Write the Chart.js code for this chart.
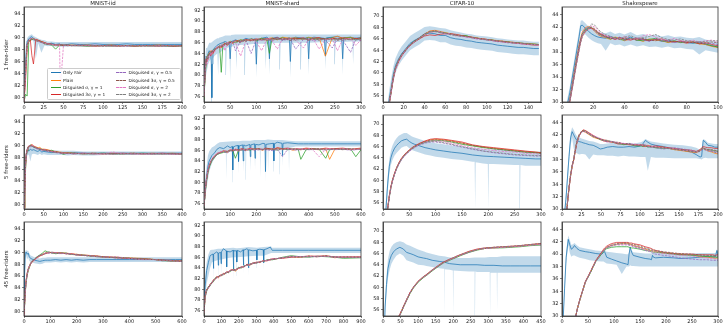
<!DOCTYPE html>
<html><head><meta charset="utf-8">
<script src="https://cdn.jsdelivr.net/npm/chart.js@4.4.1/dist/chart.umd.min.js"></script>
<style>
body{margin:0;width:725px;height:327px;position:relative;background:#fff;overflow:hidden;font-family:"DejaVu Sans",sans-serif}
canvas{position:absolute}
.ttl{position:absolute;text-align:center;font-size:5.5px;line-height:7px;color:#222;white-space:nowrap}
.rowlab{position:absolute;font-size:5.5px;color:#222;white-space:nowrap;transform:translate(-50%,-50%) rotate(-90deg)}
#legend{position:absolute;left:46.5px;top:67.5px;width:134px;height:32px;background:rgba(255,255,255,0.85);border:0.6px solid #ccc;border-radius:1.5px;box-sizing:border-box}
.li{position:absolute;font-size:4.3px;line-height:5px;color:#222;white-space:nowrap}
.ls{position:absolute;width:10px;height:0;border-top-width:0.8px}
</style></head><body>
<script>
// ---------- Series names ----------
const seriesNames = ['Only Fair','Plain','Disguised σ, γ = 1','Disguised 3σ, γ = 1','Disguised σ, γ = 0.5','Disguised 3σ, γ = 0.5','Disguised σ, γ = 2','Disguised 3σ, γ = 2'];
const datasetTitles = ['MNIST-iid','MNIST-shard','CIFAR-10','Shakespeare'];
const rowTitles = ['1 free-rider','5 free-riders','45 free-riders'];

// ---------- Tick labels ----------
const yTicksIID = [80,82,84,86,88,90,92,94];
const yTicksShard = [76,78,80,82,84,86,88,90,92];
const yTicksCifar = [56,58,60,62,64,66,68,70];
const yTicksShk = [30,32,34,36,38,40,42,44];
const xTicksIid1 = [0,25,50,75,100,125,150,175,200];
const xTicksShard1 = [0,50,100,150,200,250,300];
const xTicksCifar1 = [0,20,40,60,80,100,120,140];
const xTicksShk1 = [0,20,40,60,80,100];
const xTicksIid5 = [0,50,100,150,200,250,300,350,400];
const xTicksShard5 = [0,100,200,300,400,500,600];
const xTicksCifar5 = [0,50,100,150,200,250,300];
const xTicksShk5 = [0,25,50,75,100,125,150,175,200];
const xTicksIid45 = [0,100,200,300,400,500,600];
const xTicksShard45 = [0,100,200,300,400,500,600,700,800,900];
const xTicksCifar45 = [0,50,100,150,200,250,300,350,400,450];
const xTicksShk45 = [0,50,100,150,200,250,300];

// ---------- MNIST-iid, 1 free-rider ----------
const iid1X = [0,2,4,6,8,10,12,15,18,22,26,30,35,40,45,46,50,55,60,70,80,90,100,110,120,130,140,150,160,170,180,190,200];
const iid1Fair = [79.5,86,89.4,89.8,90.1,90.2,89.9,89.7,89.5,89.3,89.2,89.0,89.1,88.9,89.0,88.9,88.9,88.9,89.0,88.9,88.9,89.0,88.9,88.9,88.9,89.0,88.9,88.9,88.9,88.9,88.9,88.9,88.9];
const iid1Hi = [81,88.5,90,90.3,90.5,90.6,90.3,90.1,89.9,89.7,89.6,89.4,89.4,89.3,89.3,89.3,89.3,89.3,89.3,89.3,89.3,89.3,89.3,89.3,89.3,89.3,89.3,89.3,89.3,89.3,89.3,89.3,89.3];
const iid1Lo = [79.2,83.5,88.5,89.2,89.6,89.7,89.4,86.5,89.1,87.5,88.7,88.6,88.7,88.5,88.6,88.5,88.5,88.5,88.6,88.5,88.5,88.5,88.5,88.5,88.5,88.5,88.5,88.5,88.5,88.5,88.5,88.5,88.5];
const iid1Plain = [79.3,84,88.5,89.5,89.6,89.8,89.9,89.7,89.6,89.4,89.2,89.0,88.9,88.8,88.9,88.8,88.8,88.7,88.8,88.7,88.8,88.7,88.7,88.8,88.7,88.7,88.7,88.7,88.7,88.8,88.7,88.7,88.7];
const iid1S1 = [79.2,80.5,80.2,89.3,89.6,89.7,89.8,89.6,89.5,89.3,89.0,88.9,88.8,88.1,88.8,88.8,88.7,88.8,88.7,88.7,88.6,88.7,88.7,88.6,88.7,88.7,88.6,88.7,88.6,88.7,88.6,88.6,88.6];
const iid1T1 = [79.2,83,88.8,89.4,89.7,87,85.6,89.8,89.6,89.4,89.2,89.0,88.9,88.8,88.8,88.8,88.7,88.8,88.7,88.7,88.7,88.6,88.7,88.7,88.6,88.7,88.6,88.7,88.7,88.6,88.7,88.6,88.7];
const iid1S05 = [79.3,85,89,89.6,89.8,89.9,89.7,89.6,89.5,89.2,89.1,89.0,88.9,88.8,88.9,88.9,88.7,88.8,88.7,88.8,88.7,88.7,88.7,88.7,88.7,88.6,88.7,88.7,88.7,88.7,88.6,88.7,88.7];
const iid1T05 = [79.4,84.5,88.9,89.7,89.9,89.8,89.8,89.5,89.4,89.3,89.0,88.9,89.0,88.8,88.8,88.8,88.8,88.7,88.7,88.8,88.7,88.7,88.6,88.7,88.7,88.7,88.7,88.6,88.7,88.7,88.7,88.6,88.7];
const iid1S2 = [79.2,83.8,88.6,89.5,89.9,90.0,89.8,89.7,89.4,89.2,89.1,88.9,88.9,88.8,88.8,81.5,88.8,88.7,88.7,88.7,88.7,88.8,88.7,88.6,88.7,88.7,88.7,88.7,88.6,88.7,88.7,88.7,88.6];
const iid1T2 = [79.3,84.2,88.7,89.6,89.7,89.9,89.9,89.6,89.5,89.3,89.1,88.9,88.8,88.8,88.9,88.8,88.7,88.8,88.7,88.7,88.8,88.7,88.7,88.7,88.6,88.7,88.7,88.7,88.7,88.6,88.7,88.7,88.7];

// ---------- MNIST-iid, 5 free-riders ----------
const iid5X = [0,2,4,6,8,10,13,16,20,25,30,35,40,45,50,60,70,80,90,100,110,125,150,175,200,225,250,275,300,325,350,375,400];
const iid5Fair = [79.5,84,87.5,88.5,89,89.3,89.1,89.4,89.2,89.3,89.1,89.0,89.2,88.9,89.0,88.9,88.8,88.9,88.8,88.8,88.7,88.8,88.7,88.7,88.7,88.7,88.7,88.7,88.7,88.7,88.7,88.7,88.7];
const iid5Hi = [81,86,88.5,89.3,89.7,89.9,89.8,90,89.8,89.8,89.6,89.5,89.6,89.4,89.4,89.3,89.2,89.2,89.1,89.1,89.1,89.1,89.0,89.0,89.0,89.0,89.0,89.0,89.0,89.0,89.0,89.0,89.0];
const iid5Lo = [79.2,82,86.5,87.5,88.2,88.5,88.3,87.3,88.5,88.6,88.5,88.4,88.6,88.4,88.5,88.4,88.4,88.4,88.4,88.4,88.3,88.4,88.3,88.3,88.4,88.4,88.4,88.4,88.4,88.4,88.4,88.4,88.4];
const iid5Plain = [79.3,82,86.5,88.5,89.2,89.6,89.8,90,90.1,89.9,89.8,89.6,89.7,89.4,89.4,89.3,89.1,89.0,88.9,88.8,88.8,88.7,88.6,88.7,88.6,88.7,88.6,88.7,88.6,88.7,88.6,88.7,88.6];
const iid5S1 = [79.2,81.5,86,88.2,89.0,89.5,89.9,90.1,89.9,89.7,89.6,89.5,89.3,89.4,89.2,89.1,89.2,88.9,88.8,88.5,88.7,88.7,88.6,88.6,88.7,88.6,88.6,88.6,88.7,88.6,88.6,88.6,88.6];
const iid5T1 = [79.3,82.5,87,88.7,89.4,89.7,90.0,89.9,90.2,89.8,89.7,89.5,89.5,89.3,89.3,89.2,89.0,88.9,88.8,88.7,88.7,88.6,88.7,88.6,88.6,88.6,88.7,88.6,88.6,88.6,88.7,88.6,88.6];
const iid5S05 = [79.2,82.2,86.8,88.4,89.1,89.5,89.7,89.8,89.9,89.7,89.5,89.4,89.4,89.2,89.2,89.0,89.0,88.8,88.7,88.7,88.7,88.6,88.7,88.6,88.6,88.6,88.6,88.6,88.6,88.6,88.6,88.6,88.6];
const iid5T05 = [79.4,82.8,87.2,88.6,89.3,89.8,89.9,90.0,90.0,89.8,89.6,89.6,89.4,89.3,89.3,89.1,89.0,88.9,88.8,88.7,88.7,88.7,88.6,88.7,88.6,88.6,88.6,88.7,88.6,88.6,88.6,88.6,88.5];
const iid5S2 = [79.2,81.8,86.4,88.3,89.1,89.6,90.0,89.9,90.0,89.9,89.7,89.4,89.5,89.2,89.3,89.1,89.0,88.9,88.8,88.7,88.6,88.7,88.6,88.6,88.6,88.9,88.6,88.6,88.6,88.6,88.6,88.5,88.6];
const iid5T2 = [79.3,82.4,86.9,88.6,89.2,89.7,89.8,90.1,89.8,89.9,89.6,89.5,89.4,89.3,89.2,89.2,88.9,88.8,88.8,88.7,88.7,88.6,88.6,88.6,88.7,88.6,88.6,88.6,88.6,88.6,88.6,88.6,88.6];

// ---------- MNIST-iid, 45 free-riders ----------
const iid45X = [0,2,5,8,12,16,20,25,30,40,50,60,70,80,90,100,120,140,160,180,200,225,250,275,300,350,400,450,500,525,550,575,600];
const iid45Fair = [80,86,89.8,90.1,89.7,89.9,89.3,89.0,88.9,88.7,88.6,88.5,88.6,88.7,88.7,88.7,88.8,88.7,88.8,88.7,88.8,88.7,88.8,88.8,88.8,88.8,88.8,88.8,88.8,88.8,88.8,88.8,88.8];
const iid45Hi = [81,88,90.3,90.4,90.3,90.3,89.9,89.5,89.4,89.2,89.1,89.0,89.1,89.1,89.2,89.2,89.2,89.2,89.2,89.2,89.2,89.2,89.2,89.2,89.2,89.2,89.2,89.2,89.2,89.2,89.2,89.2,89.2];
const iid45Lo = [79.2,83,89.0,89.5,88.8,89.2,88.6,88.4,88.3,88.2,88.1,88.0,88.1,88.3,88.3,88.3,88.4,88.3,88.4,88.3,88.4,88.3,88.4,88.4,88.4,88.4,88.4,88.4,88.4,88.4,88.4,88.4,88.4];
const iid45Plain = [79.3,81,83.5,85,86.3,87.0,87.5,88.0,88.3,88.8,89.1,89.4,89.7,89.9,90.0,90.0,89.9,90.0,89.9,89.8,89.7,89.6,89.5,89.4,89.3,89.2,89.1,89.0,88.8,88.7,88.7,88.6,88.6];
const iid45S1 = [79.2,80.8,83.2,84.8,86.1,86.9,87.4,88.1,88.4,88.9,89.3,89.6,89.9,90.3,90.1,90.0,89.8,89.9,89.9,89.7,89.6,89.6,89.4,89.3,89.2,89.2,89.0,88.9,88.8,88.6,88.6,88.5,88.5];
const iid45T1 = [79.3,81.2,83.8,85.3,86.5,87.2,87.7,88.2,88.5,88.8,89.2,89.5,89.6,89.8,89.9,90.0,90.0,89.9,89.8,89.8,89.6,89.5,89.5,89.4,89.3,89.1,89.0,88.9,88.8,88.7,88.6,88.6,88.5];
const iid45S05 = [79.2,80.9,83.4,84.9,86.2,87.1,87.6,88.0,88.4,88.9,89.2,89.5,89.7,89.8,89.9,89.9,89.9,89.8,89.9,89.7,89.6,89.5,89.4,89.3,89.3,89.1,89.0,88.9,88.8,88.7,88.7,88.6,88.5];
const iid45T05 = [79.3,81.1,83.6,85.1,86.4,87.1,87.6,88.1,88.4,88.8,89.2,89.4,89.6,89.9,90.0,90.1,90.0,89.9,89.8,89.7,89.7,89.5,89.4,89.4,89.2,89.2,89.0,88.9,88.8,88.7,88.6,88.6,88.6];
const iid45S2 = [79.2,81.0,83.3,85.0,86.3,87.0,87.5,88.1,88.3,88.7,89.1,89.4,89.7,89.9,90.0,90.0,90.0,89.9,89.8,89.8,89.6,89.6,89.5,89.3,89.2,89.3,89.0,88.8,88.8,88.6,88.7,88.5,88.5];
const iid45T2 = [79.3,81.1,83.7,85.2,86.4,87.2,87.7,88.2,88.5,88.9,89.3,89.5,89.7,89.8,90.1,90.0,89.9,90.0,89.8,89.7,89.6,89.5,89.5,89.4,89.3,89.1,89.1,88.9,88.8,88.7,88.6,88.6,88.5];

// ---------- MNIST-shard, 1 free-rider ----------
const shard1X = [0,2,4,6,8,10,13,15,17,20,25,30,33,36,40,45,50,55,60,70,80,90,100,110,120,125,130,140,150,165,175,190,200,210,220,232,245,255,265,280,290,300];
const shard1FairX = [0,2,4,6,8,10,13,14,15,16,17,20,25,30,36,40,45,48,50,52,55,60,70,80,90,98,100,102,110,120,123,125,127,130,140,150,163,165,167,175,190,198,200,202,210,220,230,232,234,245,255,263,265,267,280,290,300];
const shard1Fair = [76.5,81,83.5,83,84,84.5,84,82,75.8,82,84.5,85,85.5,85.8,86,86.2,86,86.1,83,86.2,86.3,86.5,86.2,86.8,86.5,86.7,82,86.6,86.8,87,86.8,83,86.7,86.8,87,86.5,86.9,82.5,86.8,87,86.8,86.9,83,86.8,87,86.9,86.8,83.5,86.9,87,87.1,86.9,83,86.9,87,86.8,87];
const shard1BandX = [0,2,4,6,8,10,13.5,15,16.5,20,25.5,27,28.5,35,40.5,42,43.5,48.5,50,51.5,60.5,62,63.5,76.5,78,79.5,98.5,100,101.5,116.5,118,119.5,123.5,125,126.5,143.5,145,146.5,163.5,165,166.5,183.5,185,186.5,198.5,200,201.5,230.5,232,233.5,248.5,250,251.5,263.5,265,266.5,283.5,285,286.5,300];
const shard1Hi = [78,83,85,85,85.5,86,86,86,86.2,86.5,86.8,86.8,86.9,87.1,87.3,87.3,87.3,87.3,87.3,87.4,87.5,87.5,87.5,87.5,87.5,87.5,87.5,87.5,87.5,87.5,87.5,87.5,87.5,87.5,87.5,87.5,87.5,87.5,87.5,87.5,87.5,87.5,87.5,87.5,87.5,87.5,87.5,87.5,87.5,87.5,87.5,87.5,87.5,87.5,87.5,87.5,87.5,87.5,87.5,87.5];
const shard1Lo = [75,78,80,81,82,82.5,83,75,83,83.5,84,80,84,84.5,85,80,85,85.2,79,85.2,85.5,81,85.5,85.6,80,85.6,85.8,79.5,85.8,85.8,81,85.8,85.9,80,85.9,86,81,86,86,79.5,86,86,81,86,86,80,86,86.1,81,86.1,86.1,82,86.1,86.1,80,86.1,86.2,82,86.2,86.2];
const shard1Plain = [76,80,82.5,83.5,83.5,84,84.5,83.8,84,84.5,85,85.3,85,85.6,85.8,86,86.2,85.8,86.3,86.5,86.3,86.6,86.5,86.8,86.4,86.8,86.9,86.5,87,86.8,86.9,86.6,87,86.8,86.9,83.5,86.9,87.2,86.8,87,86.7,86.9];
const shard1S1 = [75.5,79.5,82,83,83.8,84,84.2,84,84.5,84.8,85,85.2,80.5,85.5,85.8,85.7,86,86.2,86,86.5,86.4,86.7,86.3,86.8,86.6,84,86.8,86.7,86.9,86.5,86.8,86.7,86.9,86.6,86.8,86.7,86.9,86.6,86.8,86.9,86.5,86.8];
const shard1T1 = [76,80.5,83,82.5,83,84,83.5,84.5,84,84.6,85.2,85,85.4,85.3,85.9,85.5,86.1,86,86.4,86.2,86.6,86.4,86.7,86.5,86.8,86.6,86.7,86.9,86.6,86.8,86.7,86.9,86.5,86.8,86.9,86.6,86.8,86.7,86.9,86.6,86.8,86.7];
const shard1S05 = [76,80,82.8,83.2,83.5,83.8,84,84.3,84.1,84.7,84.9,85.3,85.6,85.2,85.7,86,85.8,86.2,84.5,86.3,86.5,84,86.6,86.4,86.7,86.5,86.3,86.8,86.4,86.7,84.8,86.6,86.8,86.3,86.7,86.5,85,86.7,86.5,84.2,86.6,86.4];
const shard1T05 = [75.8,80.2,82.6,83,83.3,84.1,83.8,84.4,84.3,84.5,85.1,85.4,85.2,85.7,85.5,85.9,86,86.1,86.2,86,86.5,86.3,86.5,86.6,86.4,86.7,86.5,86.6,86.8,86.4,86.6,86.8,86.4,86.7,86.5,86.8,86.6,86.4,86.7,86.5,86.8,86.6];
const shard1S2 = [76.2,80.8,82.4,82,83.6,83.2,84.2,83.7,84.6,84.2,85.3,84.8,85.5,85.8,84.5,86.1,85.6,86.3,86.1,83.5,86.4,86.6,86.2,84.5,86.6,86.8,86.4,84.8,86.7,86.6,86.5,85,86.7,86.5,84.8,86.6,86.8,84.5,86.6,86.8,85.5,86.5];
const shard1T2 = [75.9,80.4,82.9,83.4,83.1,83.9,84.4,84.2,84.7,84.9,84.8,85.6,85.3,85.9,86,85.8,86.3,86.1,86.4,86.4,86.2,86.8,86.4,86.7,86.5,86.4,86.8,86.6,86.5,86.9,86.4,86.7,86.6,86.9,86.4,86.7,86.5,86.8,86.4,86.7,86.5,86.8];

// ---------- MNIST-shard, 5 free-riders ----------
const shard5X = [0,5,10,15,20,30,40,50,60,75,90,100,110,120,132,145,160,177,190,210,225,235,250,267,280,300,320,340,360,370,390,410,440,465,480,500,530,560,580,600];
const shard5FairX = [0,5,10,15,20,30,40,50,60,75,90,100,108,110,112,120,130,132,134,148,150,152,160,175,177,179,193,195,197,210,225,233,235,237,250,265,267,269,280,298,300,302,320,340,360,380,400,450,500,550,600];
const shard5Fair = [76,79,81,83,84,85,85.5,86.2,86.5,86.3,86.8,86.5,86.7,82.3,86.6,86.8,86.9,83.9,86.8,87,84,87,86.8,87.1,84.8,87,87.2,84.5,87.1,87,87.3,87.2,82,87.1,87.2,87.3,84,87.2,87.5,87.3,85,87.3,87.4,87.3,87.2,87.2,87.2,87.2,87.2,87.2,87.2];
const shard5BandX = [0,5,10,15,20,30,40,50,60,83.5,85,86.5,108.5,110,111.5,130.5,132,133.5,148.5,150,151.5,158.5,160,161.5,175.5,177,178.5,193.5,195,196.5,213.5,215,216.5,233.5,235,236.5,243.5,245,246.5,265.5,267,268.5,288.5,290,291.5,298.5,300,301.5,323.5,325,326.5,350,400,500,600];
const shard5Hi = [78,81,83,85,85.8,86.5,86.8,87.2,87.5,87.6,87.6,87.6,87.7,87.7,87.7,87.7,87.7,87.7,87.8,87.8,87.8,87.8,87.8,87.8,87.8,87.8,87.8,87.9,87.9,87.9,87.9,87.9,87.9,87.9,87.9,87.9,88,88,88,87.9,87.9,87.9,87.9,87.9,87.9,87.9,87.9,87.9,87.8,87.8,87.8,87.7,87.7,87.7,87.7];
const shard5Lo = [75,77,79,80.5,82,83.5,84.5,85.2,85.6,85.8,80.5,85.8,85.9,80,85.9,86,81.5,86,86,82,86,86,80.5,86,86.1,82,86.1,86.1,82.5,86.1,86.1,81,86.1,86.2,80,86.2,86.2,82,86.2,86.2,82,86.2,86.3,81.5,86.3,86.3,83,86.3,86.4,82,86.4,86.7,86.7,86.7,86.7];
const shard5Plain = [75.5,78.5,80.5,82,83,84.2,84.8,85.3,85.5,85.8,85.6,86,85.9,86.1,85.8,86.2,86,86.3,86.1,86.2,86,86.3,86.2,86.1,86.4,86.2,86.3,86,86.2,86.1,86.3,86.2,86.1,86.3,84.3,86.2,86.3,86.1,86.2,86.3];
const shard5S1 = [75.3,78.2,80.3,81.8,82.8,84,84.6,85.2,85.4,85.6,85.7,85.9,86,84.5,86,86.1,86.2,86,86.3,86.1,86.2,86.1,86.3,86.2,86,86.3,86.1,86.2,86.2,84.3,86.1,86.3,86.2,84.5,86.1,86.2,86.2,86.3,84.8,86.1];
const shard5T1 = [75.6,78.8,80.8,82.2,83.2,84.3,84.9,85.4,85.6,85.9,85.8,86.1,86,86.2,86.1,86.3,86.1,86.4,86.2,86.3,86.1,86.4,86.3,86.2,86.5,86.3,86.4,86.2,86.3,86.2,86.4,86.3,86.2,86.4,86.3,86.3,86.4,86.2,86.3,86.4];
const shard5S05 = [75.4,78.4,80.6,82.1,83.1,84.1,84.7,85.2,85.5,85.7,85.5,85.9,85.8,86,85.9,86.1,85.9,86.2,86,86.1,86.1,86.2,86,85.9,86.2,84.8,86.2,86.1,86,86.2,86.1,86.1,86.2,86,86.2,86.1,86.2,86,86.1,86.2];
const shard5T05 = [75.5,78.6,80.7,82.2,83,84.2,84.8,85.3,85.5,85.8,85.7,86,85.9,86.1,86,86.2,86,86.2,86.1,86.3,86.1,86.2,86.2,86.2,86.3,86.1,86.3,86.2,86.2,86.1,86.2,86.2,86.3,86.1,86.2,86.3,86.1,86.2,86.2,86.2];
const shard5S2 = [75.6,78.7,80.9,82.3,83.3,84.4,85,85.4,85.6,85.9,85.6,86.1,86,86.2,85.9,86.2,86.1,86.3,86.2,86.1,86.3,86,86.2,86.3,86.1,86.2,86.3,86.1,86.3,86.2,86.2,86.4,84.8,86.2,86.3,86.1,86.3,86.2,86.1,86.3];
const shard5T2 = [75.4,78.5,80.6,82,83.1,84.2,84.8,85.2,85.5,85.7,85.8,85.9,86.1,86,86.1,86,86.2,86.1,86.2,86.2,86.1,86.3,86.1,86.2,86.2,86.3,86.1,86.3,86.1,86.3,86.1,86.2,86.2,86.2,86.1,86.2,86.2,86.3,86.2,86.2];

// ---------- MNIST-shard, 45 free-riders ----------
const shard45X = [0,6,15,25,35,45,54,63,73,82,92,100,111,120,130,140,150,169,180,198,215,230,246,260,280,303,320,340,361,380,390,450,500,550,600,650,700,750,800,900];
const shard45FairX = [0,6,15,25,35,45,52,54,56,73,80,82,84,96,98,100,111,128,130,132,150,167,169,171,186,188,190,210,224,226,228,246,253,255,257,280,301,303,305,320,340,342,344,361,380,389,391,450,600,750,900];
const shard45Fair = [76.4,80.4,83.5,85,86.3,86.5,86.6,83.9,86.6,87,86.8,84.5,86.8,86.9,84.8,87,87.6,87.2,84.2,87.1,87,87.3,83.5,87.2,87.2,85.1,87.3,87,87.4,84.5,87.3,87.6,87.4,84,87.4,87.2,87.3,85.5,87.4,87.5,87.4,85,87.4,87.6,87.9,87.4,87.3,87.3,87.3,87.3,87.3];
const shard45BandX = [0,6,15,25,35,45,52.5,54,55.5,80.5,82,83.5,96.5,98,99.5,128.5,130,131.5,167.5,169,170.5,186.5,188,189.5,224.5,226,227.5,253.5,255,256.5,301.5,303,304.5,340.5,342,343.5,385,390,450,600,750,900];
const shard45Hi = [77.5,82,85,86.5,87.3,87.4,87.4,87.4,87.4,87.6,87.6,87.6,87.6,87.6,87.6,87.7,87.7,87.7,87.8,87.8,87.8,87.7,87.7,87.7,87.8,87.8,87.8,87.9,87.9,87.9,87.8,87.8,87.8,87.9,87.9,87.9,88,87.8,87.8,87.8,87.8,87.8];
const shard45Lo = [75.2,78,81,82.5,84,85,85.2,81.5,85.2,85.5,81,85.5,85.6,82.5,85.6,85.8,82,85.8,86,81.5,86,86,82.5,86,86.1,83,86.1,86.2,82.5,86.2,86.3,84,86.3,86.3,83.5,86.3,86.8,86.8,86.8,86.8,86.8,86.8];
const shard45Plain = [75.5,78.6,79.8,80.3,80.8,81.2,81.6,81.9,82.3,82.1,82.6,82.5,82.9,82.8,83.2,83.1,83.5,83.6,83.4,83.9,84.1,84.3,84.6,84.5,84.8,85.0,85.1,85.3,85.4,85.5,85.6,85.9,86.1,86.0,86.2,86.1,86.3,85.9,86.1,86.0];
const shard45S1 = [75.4,78.4,79.6,80.5,80.6,81.4,81.4,82.1,82.1,82.4,82.4,82.7,82.7,83,83.1,83.3,83.3,83.8,83.6,84.1,84,84.4,84.5,84.7,84.9,84.9,85.2,85.2,85.5,85.6,85.5,86.0,86.3,86.1,86.0,86.2,86.1,86.0,85.8,85.9];
const shard45T1 = [75.6,78.8,80,80.2,81,81.1,81.8,81.8,82.4,82.3,82.7,82.6,83,82.9,83.3,83.2,83.6,83.7,83.7,83.9,84.2,84.2,84.7,84.6,84.9,85.1,85.0,85.4,85.3,85.6,85.7,85.8,86.0,86.1,86.2,86.2,86.2,86.1,86.0,86.1];
const shard45S05 = [75.5,78.5,79.7,80.4,80.7,81.3,81.5,82,82.2,82.2,82.5,82.6,82.8,82.9,83.1,83.2,83.4,83.7,83.5,84,84.1,84.3,84.5,84.6,84.8,85,85.1,85.3,85.4,85.5,85.6,85.9,86.1,86.1,86.1,86.1,86.2,86,86,86];
const shard45T05 = [75.4,78.7,79.9,80.3,80.9,81.2,81.7,81.9,82.3,82.4,82.6,82.7,82.9,83,83.2,83.1,83.5,83.6,83.6,84,84.2,84.2,84.6,84.6,84.9,85,85.2,85.3,85.4,85.6,85.6,85.9,86.1,86,86.2,86.1,86.3,86,86.1,86];
const shard45S2 = [75.6,78.5,79.8,80.2,80.8,81.3,81.5,82,82.1,82.3,82.5,82.6,82.8,82.9,83.2,83.3,83.4,83.7,83.7,83.9,84.1,84.3,84.5,84.6,84.9,84.9,85.2,85.3,85.4,85.5,85.7,85.9,86.2,86.1,86.1,86.2,86.2,86.0,86.1,86.0];
const shard45T2 = [75.5,78.6,79.9,80.4,80.8,81.2,81.6,81.9,82.3,82.3,82.6,82.6,82.9,82.9,83.2,83.2,83.5,83.7,83.6,84,84.1,84.3,84.6,84.5,84.8,85,85.1,85.3,85.5,85.5,85.6,85.9,86.1,86.1,86.2,86.1,86.2,86.1,86.0,86.0];

// ---------- CIFAR-10, 1 free-rider ----------
const cifar1X = [3,6,8,10,12,15,18,22,26,30,35,40,45,50,55,60,65,70,75,80,85,90,95,100,105,110,115,120,125,130,135,140,145,150];
const cifar1Fair = [50,55.5,57.5,59.8,61.3,62.5,63.4,64.3,65.2,65.7,66.2,66.9,67.0,66.9,66.6,66.6,66.2,66.0,65.9,65.7,65.6,65.4,65.3,65.2,65.1,64.9,64.8,64.7,64.6,64.5,64.5,64.4,64.3,64.3];
const cifar1Hi = [52,57,59.2,61.2,62.6,63.8,64.7,65.6,66.5,67.0,67.5,68.1,68.2,68.1,67.9,67.8,67.5,67.3,67.1,66.9,66.8,66.6,66.5,66.4,66.3,66.1,66.0,65.9,65.8,65.7,65.7,65.6,65.5,65.5];
const cifar1Lo = [48,54,56,58.4,60,61.3,62.2,63.1,64,64.5,65,65.7,65.8,65.7,65.4,65.4,65.0,64.8,64.7,64.5,64.4,64.2,64.1,64.0,63.9,63.7,63.6,63.5,63.4,63.3,63.3,63.2,63.1,63.1];
const cifar1Plain = [49,54.8,57,59.3,60.8,62.2,63.1,64.1,64.9,65.5,66.1,66.8,67.4,67.5,67.3,67.1,66.9,66.7,66.6,66.5,66.3,66.2,66.0,65.9,65.8,65.7,65.6,65.5,65.4,65.3,65.2,65.2,65.1,65.0];
const cifar1S1 = [48.8,54.6,56.9,59.2,60.9,62.1,63.2,64.0,64.8,65.6,66.0,66.6,67.2,67.3,67.2,67.0,66.9,66.6,66.5,66.6,66.2,66.1,66.0,65.8,65.8,65.6,65.5,65.5,65.3,65.3,65.2,65.1,65.1,65.0];
const cifar1T1 = [48.5,54.5,56.8,59,60.6,62,63,64,64.8,65.4,66,66.5,66.7,66.6,66.8,66.9,66.9,66.8,66.6,66.4,66.3,66.1,66.0,65.9,65.7,65.6,65.5,65.4,65.3,65.2,65.1,65.0,64.9,64.9];
const cifar1S05 = [48.7,54.7,57.1,59.1,60.7,62.2,63.1,63.9,64.9,65.5,66.1,66.7,67.1,67.4,67.1,66.9,66.8,66.7,66.4,66.4,66.2,66.0,65.9,65.8,65.7,65.5,65.5,65.3,65.3,65.2,65.1,65.1,65.0,64.9];
const cifar1T05 = [48.9,54.9,57.0,59.4,60.9,62.3,63.3,64.2,65.0,65.6,66.2,66.9,67.3,67.4,67.2,67.0,66.8,66.6,66.6,66.4,66.3,66.1,66.0,65.9,65.8,65.6,65.6,65.4,65.4,65.3,65.2,65.1,65.0,65.0];
const cifar1S2 = [48.6,54.6,56.9,59.2,60.8,62.0,63.1,64.1,64.7,65.5,66.0,66.6,67.2,67.2,67.3,66.9,66.9,66.5,66.5,66.3,66.2,66.0,66.0,65.8,65.7,65.6,65.4,65.4,65.3,65.2,65.1,65.0,65.0,64.9];
const cifar1T2 = [48.8,54.8,57.1,59.3,60.9,62.3,63.2,64.0,64.9,65.4,66.1,66.8,67.3,67.3,67.1,67.0,66.7,66.7,66.5,66.4,66.3,66.2,65.9,65.9,65.7,65.7,65.5,65.4,65.3,65.3,65.2,65.1,65.0,65.0];

// ---------- CIFAR-10, 5 free-riders ----------
const cifar5X = [3,6,9,12,15,18,22,26,30,35,40,45,50,55,60,70,80,90,100,115,130,150,170,190,210,230,250,270,290,300];
const cifar5Fair = [50,55.5,59.5,62.5,64,64.9,65.7,66.2,66.6,67.0,67.2,67.3,66.9,66.6,66.4,66.1,65.8,65.6,65.4,65.2,65.0,64.8,64.5,64.3,64.2,64.1,64.0,63.9,63.8,63.8];
const cifar5BandX = [3,6,9,12,15,18,22,26,30,35,40,45,50,55,60,70,80,90,100,115,130,150,170,174,175,176,190,199,200,201,210,230,250,259,260,261,270,290,300];
const cifar5Hi = [52,57,61,63.8,65.3,66.2,67.0,67.5,67.9,68.2,68.4,68.4,68.1,67.8,67.6,67.3,67.0,66.8,66.6,66.4,66.2,66.0,65.8,65.8,65.8,65.8,65.6,65.5,65.5,65.5,65.5,65.4,65.3,65.3,65.3,65.3,65.2,65.1,65.1];
const cifar5Lo = [48,54,58,61.2,62.7,63.6,64.4,64.9,65.3,65.8,66.0,66.1,65.7,65.4,65.2,64.9,64.6,64.4,64.2,64.0,63.8,63.6,63.3,63.3,55,63.2,63.0,62.9,55,62.9,62.9,62.8,62.7,62.7,55,62.7,62.6,62.6,62.6];
const cifar5Plain = [46,52,55.2,57.2,58.8,60,61.2,62.2,63,63.8,64.4,64.9,65.3,65.7,66.0,66.5,66.9,67.2,67.3,67.2,67.0,66.6,66.2,65.9,65.7,65.5,65.3,65.1,65.0,64.9];
const cifar5S1 = [45.8,51.8,55,57,58.7,59.9,61.1,62.1,62.9,63.7,64.3,64.8,65.2,65.6,65.9,66.4,66.8,67.0,67.1,67.0,66.8,66.4,66.1,65.8,65.6,65.4,65.2,65.0,64.9,64.8];
const cifar5T1 = [45.9,52,55.1,57.3,58.9,60.1,61.3,62.3,63.1,63.9,64.5,65.0,65.4,65.8,66.1,66.6,67.0,67.3,67.4,67.3,67.1,66.8,66.3,66.0,65.8,65.6,65.4,65.2,65.0,64.9];
const cifar5S05 = [45.7,51.7,54.9,57,58.6,59.8,61.0,62.0,62.8,63.6,64.2,64.7,65.1,65.5,65.8,66.3,66.6,66.8,66.8,66.6,66.3,65.9,65.5,65.2,64.9,64.7,64.5,64.4,64.3,64.3];
const cifar5T05 = [45.8,51.9,55.1,57.2,58.8,60,61.2,62.2,63,63.8,64.4,64.9,65.3,65.7,66.0,66.5,66.9,67.1,67.2,67.1,66.9,66.6,66.2,65.9,65.6,65.4,65.2,65.0,64.9,64.8];
const cifar5S2 = [45.9,51.9,55,57.1,58.7,59.9,61.1,62.1,62.9,63.7,64.3,64.8,65.2,65.6,65.9,66.4,66.8,67.0,67.0,66.9,66.6,66.2,65.8,65.5,65.3,65.1,65.0,64.8,64.7,64.6];
const cifar5T2 = [45.7,51.8,55,57.1,58.7,60,61.2,62.2,63,63.8,64.4,64.9,65.3,65.7,66.0,66.4,66.7,66.9,66.9,66.7,66.4,66.0,65.6,65.2,65.0,64.8,64.6,64.5,64.4,64.4];

// ---------- CIFAR-10, 45 free-riders ----------
const cifar45X = [3,6,10,14,19,24,30,38,48,58,67,77,86,100,115,124,140,160,172,190,220,245,268,290,316,340,364,390,420,450];
const cifar45Fair = [50,56.5,60.5,63.3,64.8,65.7,66.3,66.8,67.1,66.8,66.2,66.0,65.8,65.4,65.2,65.1,64.8,64.6,64.5,64.2,64.0,64.0,64.0,63.9,63.9,63.8,63.8,63.8,63.8,63.8];
const cifar45BandX = [3,6,10,14,19,24,30,38,48,58,67,77,86,100,115,124,140,160,172,174,175,176,190,199,200,201,220,245,261,262,263,268,290,304,305,306,316,324,325,326,340,364,390,420,450];
const cifar45Hi = [52,58,62,65,66.5,67.2,67.7,68.0,68.2,68.0,67.6,67.4,67.1,66.7,66.4,66.2,65.9,65.6,65.5,65.5,65.5,65.5,65.3,65.3,65.3,65.3,65.2,65.2,65.3,65.3,65.3,65.3,65.3,65.4,65.4,65.4,65.4,65.4,65.4,65.4,65.5,65.5,65.5,65.5,65.5];
const cifar45Lo = [48,55,59,61.6,63.1,64.2,64.9,65.6,66.0,65.6,64.8,64.6,64.4,64.0,63.9,63.8,63.6,63.4,63.3,63.3,55,63.2,63.1,63.0,55,63.0,62.9,62.8,62.8,55,62.8,62.7,62.7,62.7,55,62.6,62.6,62.6,56,62.6,62.6,62.6,62.6,62.6,62.6];
const cifar45Plain = [30,38,44,48,51,52.5,53.5,54.2,55.1,56.5,57.7,59.0,59.9,61.0,61.8,62.2,63.0,63.9,64.4,64.9,65.7,66.3,66.7,66.9,67.0,67.1,67.2,67.3,67.5,67.7];
const cifar45S1 = [30,38,44,48,51,52.4,53.4,54.1,55.0,56.4,57.6,58.9,59.8,60.9,61.7,62.1,62.9,63.8,64.3,64.8,65.6,66.2,66.6,66.9,67.0,67.0,67.1,67.2,67.4,67.5];
const cifar45T1 = [30,38,44,48,51,52.6,53.6,54.3,55.2,56.6,57.8,59.1,60.0,61.1,61.9,62.3,63.1,64.0,64.5,65.0,65.8,66.4,66.8,67.0,67.1,67.2,67.3,67.4,67.6,67.8];
const cifar45S05 = [30,38,44,48,51,52.5,53.5,54.2,55.0,56.5,57.7,59.0,59.9,61.0,61.8,62.2,63.0,63.9,64.4,64.9,65.7,66.2,66.7,66.9,67.0,67.1,67.2,67.3,67.5,67.6];
const cifar45T05 = [30,38,44,48,51,52.5,53.5,54.2,55.1,56.5,57.7,59.0,59.9,61.0,61.8,62.2,63.0,63.9,64.4,64.9,65.7,66.3,66.7,66.9,67.1,67.2,67.2,67.4,67.6,67.7];
const cifar45S2 = [30,38,44,48,51,52.4,53.5,54.2,55.1,56.4,57.7,59.1,59.9,61.0,61.8,62.1,63.0,63.9,64.3,64.9,65.7,66.3,66.7,66.9,67.0,67.1,67.2,67.3,67.5,67.6];
const cifar45T2 = [30,38,44,48,51,52.6,53.5,54.3,55.1,56.5,57.8,59.0,60.0,61.0,61.9,62.2,63.1,63.9,64.4,65.0,65.8,66.3,66.7,67.0,67.1,67.2,67.3,67.4,67.6,67.8];

// ---------- Shakespeare, 1 free-rider ----------
const shk1X = [3,5,7,9,11,12,13,15,17,19,21,23,25,28,31,34,37,40,44,48,52,56,60,64,68,72,76,80,84,88,92,96,100];
const shk1Fair = [29,31.5,34.5,37.5,40.5,42.2,42.3,41.8,41.3,40.9,40.6,40.4,40.3,40.2,40.5,40.1,40.3,40.0,40.4,39.9,40.1,39.8,40.0,39.7,39.9,39.6,39.7,39.5,39.4,39.6,39.2,39.0,38.8];
const shk1Hi = [30,32.5,35.5,38.5,41.5,43.0,43.1,42.6,42.1,41.7,41.4,41.2,41.1,41.0,41.3,40.9,41.1,40.8,41.2,40.7,40.9,40.6,40.8,40.5,40.7,40.4,40.5,40.3,40.2,40.4,40.0,39.8,39.6];
const shk1Lo = [28,30.5,33.5,36.5,39.5,41.3,41.4,40.8,40.3,39.9,39.6,39.4,39.3,38.2,39.4,39.1,39.2,38.9,39.2,38.9,39.1,38.8,38.9,38.7,38.9,38.6,38.7,38.5,38.4,37.6,38.3,38.1,37.9];
const shk1Plain = [28.5,30.5,33.5,36.5,39.2,40.3,41.2,41.9,42.1,41.8,41.3,40.8,40.5,40.3,40.0,40.4,40.2,39.8,40.1,40.0,39.7,40.1,39.9,39.8,39.5,39.7,39.6,39.4,39.7,39.3,39.2,38.9,38.7];
const shk1S1 = [28.3,30.3,33.2,36.2,38.9,40.0,40.9,41.6,41.9,41.9,41.5,41.0,40.7,40.4,40.1,40.3,40.0,39.9,40.2,39.9,39.8,40.0,40.2,39.8,39.6,39.8,39.5,39.6,39.5,39.4,39.3,39.0,38.8];
const shk1T1 = [28,30,32.9,35.8,38.5,39.7,40.6,41.3,41.7,41.8,41.6,41.1,40.8,40.5,40.3,40.0,40.3,40.1,39.9,40.2,40.0,39.8,40.0,40.1,39.7,39.6,39.8,39.5,39.6,39.3,39.5,39.2,39.0];
const shk1S05 = [28.4,30.4,33.4,36.4,39.1,40.2,41.0,41.8,42.0,41.7,41.4,40.9,40.6,40.4,40.2,40.1,40.4,39.9,40.0,40.3,39.9,39.7,40.1,39.8,39.7,39.5,39.7,39.4,39.6,39.5,39.3,39.4,39.2];
const shk1T05 = [28.2,30.2,33.0,36.0,38.7,39.9,40.8,41.5,41.8,42.0,41.7,41.2,40.9,40.6,40.2,40.2,40.0,40.3,40.1,39.9,40.2,39.9,39.8,40.0,39.8,39.7,39.6,39.7,39.5,39.6,39.4,39.6,39.5];
const shk1S2 = [28.1,30.1,32.8,35.7,38.4,39.6,40.5,41.3,41.8,42.2,42.0,41.5,41.0,40.6,40.4,40.2,40.0,40.5,40.1,40.0,40.6,40.8,40.4,40.0,39.9,40.2,39.8,39.7,39.9,39.6,39.8,39.9,39.6];
const shk1T2 = [28,30,32.7,35.6,38.3,39.5,40.4,41.2,41.8,42.5,42.3,41.7,41.2,40.8,40.5,40.3,40.1,40.4,40.6,40.2,40.3,40.5,40.8,40.3,40.0,39.9,40.1,39.8,39.7,39.6,39.7,39.8,39.8];

// ---------- Shakespeare, 5 free-riders ----------
const shk5X = [3,5,7,9,11,13,15,17,19,22,25,27,30,35,40,45,49,53,58,65,72,79,86,93,101,104,107,110,114,120,130,144,155,166,172,177,179,181,184,187,192,196,200];
const shk5Fair = [29,31.5,35,38.5,41.5,42.5,42.0,41.5,41.1,40.9,40.8,40.7,40.6,40.4,40.3,40.0,39.7,39.8,40.0,40.1,40.0,40.0,40.1,40.0,40.2,40.6,41.1,40.8,40.5,40.3,40.1,39.7,39.5,39.2,38.8,38.4,38.5,41.1,40.8,40.3,40.2,40.0,40.0];
const shk5Hi = [30,32.5,36,39.5,42.3,43.2,42.8,42.2,41.8,41.6,41.4,41.3,41.2,41.0,40.9,40.7,40.5,40.5,40.6,40.7,40.6,40.6,40.7,40.6,40.8,41.0,41.3,41.1,40.9,40.8,40.6,40.4,40.3,40.1,39.9,39.6,39.6,41.3,41.1,40.7,40.6,40.5,40.5];
const shk5Lo = [28,30.5,34,37.5,40.3,41.5,39.8,39.2,39.0,38.8,38.9,38.9,38.8,38.0,38.8,38.7,38.7,38.7,38.6,38.6,38.5,38.6,38.5,38.5,38.4,38.4,38.4,36.2,38.4,38.3,38.3,38.2,38.2,38.2,38.2,38.1,38.0,38.2,38.3,38.2,38.2,38.2,38.2];
const shk5Plain = [25,28,31,33.5,35.5,37,38,39.5,40.8,42.0,42.5,42.6,42.4,42.0,41.6,41.4,41.3,41.2,41.0,40.8,40.7,40.5,40.4,40.4,40.3,40.4,40.2,40.3,40.1,40.0,40.0,39.6,39.4,39.2,39.1,39.4,39.6,39.8,39.6,39.4,39.2,39.0,38.9];
const shk5S1 = [25,28,31,33.4,35.4,36.9,38,39.4,40.7,41.9,42.4,42.7,42.6,42.2,41.8,41.5,41.2,41.1,41.0,40.9,40.6,40.4,40.5,40.2,40.2,40.1,40.3,40.0,40.1,39.9,39.8,39.8,39.6,39.4,39.3,39.5,39.8,39.9,39.7,39.6,39.5,39.4,39.3];
const shk5T1 = [25,28,30.9,33.3,35.3,36.8,37.9,39.3,40.6,41.8,42.5,42.8,42.7,42.3,41.9,41.5,41.3,41.0,40.9,40.8,40.5,40.6,40.4,40.4,40.3,40.2,40.1,40.2,40.1,40.2,40.0,39.8,39.6,39.5,39.3,39.6,39.9,40.1,40.0,39.9,39.9,39.8,39.8];
const shk5S05 = [25,28,31,33.5,35.5,37,38.1,39.5,40.8,41.9,42.4,42.6,42.5,42.1,41.7,41.6,41.3,41.1,40.8,40.9,40.7,40.6,40.5,40.4,40.3,40.5,40.3,40.1,40.0,39.9,39.7,39.9,39.7,39.5,39.2,39.3,39.5,39.7,39.5,39.4,39.3,39.2,39.2];
const shk5T05 = [25,28,31.1,33.6,35.6,37.1,38.1,39.6,40.9,42.0,42.6,42.6,42.5,42.1,41.8,41.5,41.4,41.2,41.1,40.8,40.8,40.5,40.6,40.3,40.4,40.3,40.2,40.1,40.2,40.0,39.9,39.7,39.5,39.3,39.2,39.4,39.7,39.8,39.7,39.6,39.6,39.5,39.4];
const shk5S2 = [25,28,31,33.4,35.4,36.9,38,39.4,40.7,41.9,42.4,42.5,42.5,42.2,41.9,41.6,41.4,41.2,41.0,40.9,40.7,40.6,40.5,40.5,40.4,40.3,40.4,40.2,40.1,40.1,39.9,39.8,39.5,39.4,39.3,39.5,39.7,39.9,39.7,39.5,39.4,39.3,39.1];
const shk5T2 = [25,28,31,33.5,35.5,37,38,39.5,40.8,42.0,42.5,42.7,42.5,42.1,41.7,41.5,41.3,41.1,41.0,40.8,40.6,40.5,40.5,40.3,40.3,40.4,40.2,40.1,40.0,40.0,39.9,39.6,39.5,39.3,39.2,39.4,39.6,39.8,39.6,39.5,39.4,39.2,39.0];

// ---------- Shakespeare, 45 free-riders ----------
const shk45X = [2,5,8,12,15,18,21,24,29,34,45,53,65,76,80,82,86,95,105,115,124,127,129,131,134,137,150,160,169,172,174,176,180,195,215,227,250,265,279,290,295,298,300];
const shk45Fair = [29,34.5,39.5,42.4,41.5,40.8,41.0,41.4,40.9,40.6,40.4,40.3,40.1,40.0,40.3,40.4,39.5,39.2,38.9,38.6,38.4,38.3,40.0,41.1,40.3,39.8,39.5,39.3,39.2,39.1,39.8,39.5,39.4,39.5,39.4,39.3,39.4,39.5,39.6,39.5,39.6,40.6,39.8];
const shk45Hi = [30,35.5,40.5,43,42.3,41.5,41.6,41.8,41.4,41.1,40.9,40.8,40.6,40.5,40.6,40.6,40.4,40.3,40.2,40.1,40.0,40.0,40.3,41.3,40.6,40.3,40.2,40.1,40.1,40.1,40.3,40.2,40.2,40.2,40.2,40.1,40.1,40.2,40.2,40.2,40.2,40.8,40.3];
const shk45Lo = [28,33.5,38.5,41.5,40.2,39.6,39.8,39.8,39.6,39.4,39.2,39.0,38.9,38.8,38.8,38.7,38.5,38.4,38.3,36.8,38.0,38.0,38.0,38.2,38.1,38.1,38.0,38.0,38.0,38.0,38.0,38.0,38.0,38.0,38.0,38.0,38.0,38.0,38.0,38.0,38.0,38.0,38.0];
const shk45Plain = [20,21,22,23,24.5,26,27.5,29,31,32.5,35.5,36.8,38.9,40.2,40.6,40.8,41.1,41.4,41.6,41.7,41.7,41.7,41.6,41.6,41.5,41.4,41.1,40.8,40.6,40.6,40.5,40.5,40.4,40.2,40.1,40.0,39.9,39.6,39.5,39.4,39.3,39.4,39.3];
const shk45S1 = [20,21,22,23,24.5,26,27.5,29,31,32.5,35.5,36.7,38.8,40.0,40.4,40.6,40.9,41.1,41.2,41.2,41.2,41.2,41.1,41.1,41.0,41.0,40.8,40.6,40.5,40.4,40.4,40.3,40.3,40.2,40.0,39.9,39.8,39.7,39.6,39.6,39.5,39.5,39.5];
const shk45T1 = [20,21,22,23,24.5,26,27.5,29,31,32.6,35.6,36.9,39.0,40.3,40.8,41.0,41.3,41.7,41.9,41.9,41.9,41.9,41.8,41.8,41.8,41.7,41.5,41.2,41.0,40.9,40.8,40.7,40.6,40.3,40.1,40.0,40.0,39.9,39.9,39.9,39.8,39.9,39.9];
const shk45S05 = [20,21,22,23,24.5,26,27.5,29,31,32.5,35.5,36.8,38.8,40.1,40.5,40.7,41.0,41.3,41.5,41.5,41.5,41.5,41.4,41.4,41.3,41.2,40.9,40.6,40.4,40.3,40.2,40.1,40.0,39.8,39.6,39.4,39.2,39.1,39.1,39.0,39.0,39.0,39.0];
const shk45T05 = [20,21,22,23,24.5,26,27.5,29,31,32.5,35.5,36.8,38.9,40.2,40.6,40.8,41.1,41.5,41.7,41.8,41.8,41.8,41.7,41.7,41.6,41.6,41.3,41.0,40.8,40.8,40.7,40.7,40.6,40.4,40.2,40.1,40.0,39.9,39.8,39.8,39.7,39.7,39.7];
const shk45S2 = [20,21,22,23,24.5,26,27.5,29,31,32.5,35.5,36.8,38.9,40.1,40.6,40.8,41.1,41.4,41.6,41.6,41.6,41.6,41.5,41.5,41.4,41.3,41.0,40.7,40.5,40.5,40.4,40.4,40.3,40.1,39.9,39.8,39.7,39.5,39.4,39.3,39.2,39.2,39.2];
const shk45T2 = [20,21,22,23,24.5,26,27.5,29,31,32.5,35.5,36.8,38.9,40.2,40.6,40.8,41.1,41.4,41.6,41.7,41.7,41.6,41.6,41.5,41.5,41.4,41.1,40.9,40.7,40.6,40.6,40.5,40.5,40.3,40.1,40.0,39.9,39.8,39.8,39.7,39.7,39.6,39.6];

// ---------- Layout / style ----------
const COLORS = ['#1f77b4','#ff7f0e','#2ca02c','#d62728','#9467bd','#8c564b','#e377c2','#7f7f7f'];
const colL = [24,204,383,562], colR = [182,361,541,718];
const rowT = [7,115,222], rowB = [102,209,316];

const panels = [
  {r:0,c:0,x:iid1X,s:[iid1Fair,iid1Plain,iid1S1,iid1T1,iid1S05,iid1T05,iid1S2,iid1T2],bx:iid1X,hi:iid1Hi,lo:iid1Lo,xmax:200,xt:xTicksIid1,ymin:79.2,ymax:95.2,yt:yTicksIID},
  {r:0,c:1,x:shard1X,fx:shard1FairX,s:[shard1Fair,shard1Plain,shard1S1,shard1T1,shard1S05,shard1T05,shard1S2,shard1T2],bx:shard1BandX,hi:shard1Hi,lo:shard1Lo,xmax:300,xt:xTicksShard1,ymin:75,ymax:92.6,yt:yTicksShard},
  {r:0,c:2,x:cifar1X,s:[cifar1Fair,cifar1Plain,cifar1S1,cifar1T1,cifar1S05,cifar1T05,cifar1S2,cifar1T2],bx:cifar1X,hi:cifar1Hi,lo:cifar1Lo,xmax:152,xt:xTicksCifar1,ymin:54.9,ymax:71.6,yt:yTicksCifar},
  {r:0,c:3,x:shk1X,s:[shk1Fair,shk1Plain,shk1S1,shk1T1,shk1S05,shk1T05,shk1S2,shk1T2],bx:shk1X,hi:shk1Hi,lo:shk1Lo,xmax:100,xt:xTicksShk1,ymin:30,ymax:45.2,yt:yTicksShk},
  {r:1,c:0,x:iid5X,s:[iid5Fair,iid5Plain,iid5S1,iid5T1,iid5S05,iid5T05,iid5S2,iid5T2],bx:iid5X,hi:iid5Hi,lo:iid5Lo,xmax:400,xt:xTicksIid5,ymin:79.2,ymax:95.2,yt:yTicksIID},
  {r:1,c:1,x:shard5X,fx:shard5FairX,s:[shard5Fair,shard5Plain,shard5S1,shard5T1,shard5S05,shard5T05,shard5S2,shard5T2],bx:shard5BandX,hi:shard5Hi,lo:shard5Lo,xmax:600,xt:xTicksShard5,ymin:75,ymax:92.6,yt:yTicksShard},
  {r:1,c:2,x:cifar5X,s:[cifar5Fair,cifar5Plain,cifar5S1,cifar5T1,cifar5S05,cifar5T05,cifar5S2,cifar5T2],bx:cifar5BandX,hi:cifar5Hi,lo:cifar5Lo,xmax:300,xt:xTicksCifar5,ymin:54.9,ymax:71.6,yt:yTicksCifar},
  {r:1,c:3,x:shk5X,s:[shk5Fair,shk5Plain,shk5S1,shk5T1,shk5S05,shk5T05,shk5S2,shk5T2],bx:shk5X,hi:shk5Hi,lo:shk5Lo,xmax:200,xt:xTicksShk5,ymin:30,ymax:45.2,yt:yTicksShk},
  {r:2,c:0,x:iid45X,s:[iid45Fair,iid45Plain,iid45S1,iid45T1,iid45S05,iid45T05,iid45S2,iid45T2],bx:iid45X,hi:iid45Hi,lo:iid45Lo,xmax:600,xt:xTicksIid45,ymin:79.2,ymax:95.2,yt:yTicksIID},
  {r:2,c:1,x:shard45X,fx:shard45FairX,s:[shard45Fair,shard45Plain,shard45S1,shard45T1,shard45S05,shard45T05,shard45S2,shard45T2],bx:shard45BandX,hi:shard45Hi,lo:shard45Lo,xmax:900,xt:xTicksShard45,ymin:75,ymax:92.6,yt:yTicksShard},
  {r:2,c:2,x:cifar45X,s:[cifar45Fair,cifar45Plain,cifar45S1,cifar45T1,cifar45S05,cifar45T05,cifar45S2,cifar45T2],bx:cifar45BandX,hi:cifar45Hi,lo:cifar45Lo,xmax:450,xt:xTicksCifar45,ymin:54.9,ymax:71.6,yt:yTicksCifar},
  {r:2,c:3,x:shk45X,s:[shk45Fair,shk45Plain,shk45S1,shk45T1,shk45S05,shk45T05,shk45S2,shk45T2],bx:shk45X,hi:shk45Hi,lo:shk45Lo,xmax:300,xt:xTicksShk45,ymin:30,ymax:45.2,yt:yTicksShk}
];

const framePlugin = {
  id:'frame',
  afterDatasetsDraw(chart){
    const a = chart.chartArea, ctx = chart.ctx;
    ctx.save(); ctx.strokeStyle = '#333'; ctx.lineWidth = 0.8;
    ctx.strokeRect(a.left, a.top, a.right - a.left, a.bottom - a.top);
    ctx.restore();
  }
};

const PADT = 5, PADR = 10, YW = 22, XH = 14;
const tickFont = {family:'DejaVu Sans', size:5};
const gridOpts = {drawOnChartArea:false, drawTicks:true, tickLength:2, tickColor:'#333', tickWidth:0.6};
const borderOpts = {display:true, color:'#333', width:0.8};

panels.forEach(p => {
  const L = colL[p.c], R = colR[p.c], T = rowT[p.r], B = rowB[p.r];
  const w = R - L + YW + PADR, h = B - T + PADT + XH;
  const cv = document.createElement('canvas');
  cv.width = w; cv.height = h;
  cv.style.left = (L - YW) + 'px'; cv.style.top = (T - PADT) + 'px';
  cv.style.width = w + 'px'; cv.style.height = h + 'px';
  document.body.appendChild(cv);
  const datasets = [];
  p.s.forEach((ys, i) => {
    const xs = (i === 0 && p.fx) ? p.fx : p.x;
    datasets.push({
      data: xs.map((x, j) => ({x: x, y: ys[j]})),
      borderColor: COLORS[i], borderWidth: 0.75,
      borderDash: i >= 4 ? [2.4, 1.1] : [],
      pointRadius: 0, fill: false, tension: 0, order: 8 - i
    });
  });
  datasets.push({data: p.bx.map((x, j) => ({x: x, y: p.hi[j]})), borderColor:'rgba(0,0,0,0)', borderWidth:1, backgroundColor:'rgba(31,119,180,0.28)', fill:'+1', pointRadius:0, order:20});
  datasets.push({data: p.bx.map((x, j) => ({x: x, y: p.lo[j]})), borderColor:'rgba(0,0,0,0)', borderWidth:1, fill:false, pointRadius:0, order:21});
  new Chart(cv, {
    type:'line',
    data:{datasets},
    options:{
      responsive:false, animation:false, events:[], devicePixelRatio:1,
      layout:{padding:{top:PADT, right:PADR, left:0, bottom:0}, autoPadding:false},
      plugins:{legend:{display:false}, tooltip:{enabled:false}, title:{display:false}},
      scales:{
        x:{type:'linear', min:0, max:p.xmax,
           afterBuildTicks:s => { s.ticks = p.xt.map(v => ({value:v})); },
           afterFit:s => { s.height = XH; },
           ticks:{font:tickFont, color:'#222', padding:1, maxRotation:0, autoSkip:false, callback:v => String(v)},
           grid:gridOpts, border:borderOpts},
        y:{type:'linear', min:p.ymin, max:p.ymax,
           afterBuildTicks:s => { s.ticks = p.yt.map(v => ({value:v})); },
           afterFit:s => { s.width = YW; },
           ticks:{font:tickFont, color:'#222', padding:1.5, autoSkip:false, callback:v => String(v)},
           grid:gridOpts, border:borderOpts}
      }
    },
    plugins:[framePlugin]
  });
});

// titles
datasetTitles.forEach((t, c) => {
  const d = document.createElement('div'); d.className = 'ttl'; d.textContent = t;
  d.style.left = colL[c] + 'px'; d.style.width = (colR[c] - colL[c]) + 'px'; d.style.top = '-0.5px';
  document.body.appendChild(d);
});
// row labels
rowTitles.forEach((t, r) => {
  const d = document.createElement('div'); d.className = 'rowlab'; d.textContent = t;
  d.style.left = '6px'; d.style.top = ((rowT[r] + rowB[r]) / 2) + 'px';
  document.body.appendChild(d);
});
// legend
const lg = document.createElement('div'); lg.id = 'legend'; document.body.appendChild(lg);
seriesNames.forEach((n, i) => {
  const col = i < 4 ? 0 : 1, row = i % 4;
  const yc = 4.2 + row * 7.3;
  const ls = document.createElement('div'); ls.className = 'ls';
  ls.style.borderTopStyle = i >= 4 ? 'dashed' : 'solid';
  ls.style.borderTopColor = COLORS[i];
  ls.style.left = (col ? 68 : 3.5) + 'px'; ls.style.top = (yc - 0.4) + 'px';
  lg.appendChild(ls);
  const tx = document.createElement('div'); tx.className = 'li'; tx.textContent = n;
  tx.style.left = (col ? 81 : 15.5) + 'px'; tx.style.top = (yc - 2.5) + 'px';
  lg.appendChild(tx);
});
</script>
</body></html>
